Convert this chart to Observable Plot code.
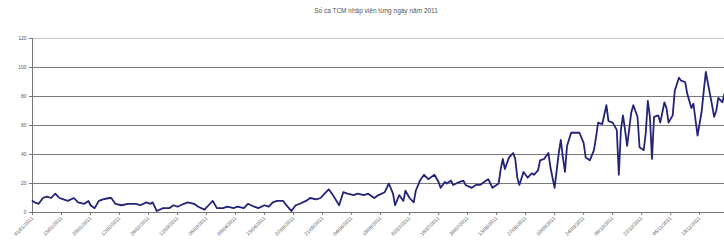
<!DOCTYPE html>
<html>
<head>
<meta charset="utf-8">
<script src="https://cdn.jsdelivr.net/npm/d3@7"></script>
<script src="https://cdn.jsdelivr.net/npm/@observablehq/plot@0.6"></script>
<style>
  html, body { margin: 0; padding: 0; background: #fff; }
  #wrap { position: relative; width: 724px; height: 242px; overflow: hidden; }
  #title { position: absolute; top: 7px; left: 0; width: 752px; text-align: center;
           font-family: "Liberation Sans", Arial, sans-serif; font-size: 6.5px; color: #555; }
</style>
</head>
<body>
<div id="wrap"><div id="title"></div><div id="chart"></div></div>
<script>
const titleText = "Số ca TCM nhập viện từng ngày năm 2011";
const startDate = "2011-01-01";
const endDay = 334;
// day offsets from 1 Jan 2011
const days = [0,1,3,5,7,9,11,13,15,17,20,22,25,27,28,30,32,34,37,38,40,43,46,50,52,55,57,58,60,63,66,68,70,73,75,78,80,83,85,87,89,92,94,97,99,102,104,107,109,112,114,116,118,121,122,125,127,129,132,134,137,139,141,143,145,148,150,152,155,157,160,162,165,167,170,172,174,175,177,179,180,182,184,185,187,189,191,194,196,197,199,200,202,203,206,208,209,212,214,216,219,220,222,225,226,227,228,230,232,233,234,235,237,239,241,242,244,245,247,249,250,252,254,255,256,257,258,260,262,264,266,267,269,271,272,273,275,277,278,280,282,283,284,285,286,287,289,290,292,293,295,296,297,298,299,300,302,303,305,306,307,309,310,312,313,315,316,318,319,321,323,324,325,326,328,329,330,331,333,334];
// daily admissions
const cases = [8,7,6,10,11,10,13,10,9,8,10,7,6,8,5,3,8,9,10,10,6,5,6,6,5,7,6,7,1,3,3,5,4,6,7,6,4,2,5,8,3,3,4,3,4,3,6,4,3,5,4,7,8,8,6,1,5,6,8,10,9,10,13,16,12,5,14,13,12,13,12,13,10,12,14,20,13,5,12,8,15,10,7,15,22,26,23,26,21,17,21,20,22,19,21,22,19,17,19,19,22,23,17,20,30,37,30,38,41,37,24,19,28,24,27,26,29,36,37,41,31,17,41,50,38,28,46,55,55,55,48,38,36,43,52,62,61,74,63,62,57,26,57,67,57,46,69,74,66,45,43,55,77,66,37,66,67,62,76,72,62,67,84,93,91,90,82,72,75,53,70,84,97,89,74,66,70,79,76,82];
const yTicks = [0,20,40,60,80,100,120];
const xTickStep = 14;

document.getElementById("title").textContent = titleText;
const start = new Date(startDate + "T00:00:00Z");
const data = days.map((d, i) => ({date: d3.utcDay.offset(start, d), value: cases[i]}));
const xTicks = d3.range(0, endDay + 1, xTickStep).map(d => d3.utcDay.offset(start, d));
const fmt = d3.utcFormat("%d/%m/%Y");

const chart = Plot.plot({
  width: 724,
  height: 242,
  marginLeft: 32,
  marginRight: 0,
  marginTop: 38,
  marginBottom: 30,
  style: {fontFamily: "Liberation Sans, Arial, sans-serif", background: "#fff", color: "#444"},
  x: {type: "utc", domain: [start, d3.utcDay.offset(start, endDay)], label: null},
  y: {domain: [0, 120], label: null},
  marks: [
    Plot.ruleY(yTicks.slice(1, -1), {stroke: "#7a7a7a", strokeWidth: 1}),
    Plot.ruleY([120], {stroke: "#c8c8c8", strokeWidth: 1}),
    Plot.axisY({ticks: yTicks, tickSize: 3, tickPadding: 3, fontSize: 5, tickFormat: d => d, stroke: "#777", fill: "#555", label: null}),
    Plot.axisX({ticks: xTicks, tickSize: 3, tickPadding: 2, tickRotate: -45, fontSize: 5, tickFormat: fmt, stroke: "#777", fill: "#555", label: null}),
    Plot.ruleX([start], {stroke: "#777"}),
    Plot.ruleY([0], {stroke: "#777"}),
    Plot.lineY(data, {x: "date", y: "value", stroke: "#23237a", strokeWidth: 1.8})
  ]
});
document.getElementById("chart").appendChild(chart);
</script>
</body>
</html>
